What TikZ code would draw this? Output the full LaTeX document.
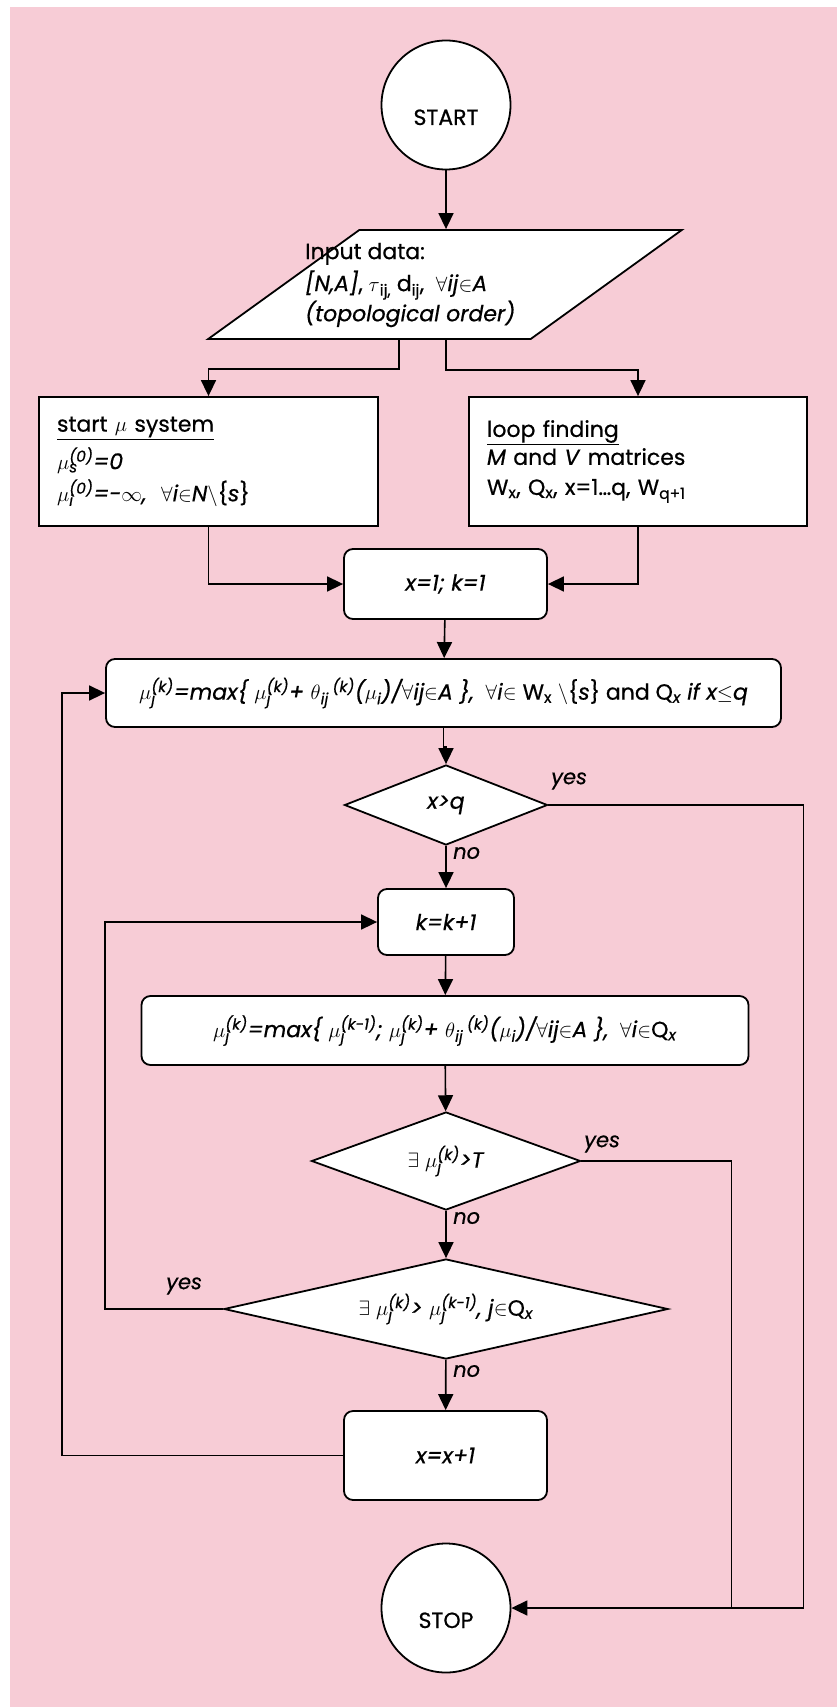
\documentclass[tikz,border=0pt]{standalone}
\usepackage{fontspec}
\setmainfont{Poppins}[FakeBold=0.6]
\usetikzlibrary{shapes.geometric,arrows.meta}
\definecolor{bgpink}{RGB}{247,204,214}
\newcommand{\supsub}[2]{\makebox[0pt][l]{\textsubscript{#2}}\textsuperscript{#1}}
\newcommand{\lowtext}[1]{\raisebox{-20pt}[0pt][0pt]{#1}}

\begin{document}
\begin{tikzpicture}[x=1pt,y=-1pt,
  font=\fontsize{22}{27}\selectfont,
  box/.style={draw,fill=white,line width=1.8pt,inner sep=0pt},
  proc/.style={box,rounded corners=9pt},
  deci/.style={box,diamond},
  term/.style={box,circle,minimum size=129pt},
  wire/.style={line width=1.6pt},
  arr/.style={wire,-{Triangle[length=16pt,width=15pt]}},
  lbl/.style={inner sep=0pt,anchor=west,font=\fontsize{21}{24}\selectfont\itshape}]
  \fill[bgpink] (10,7) rectangle (837,1707);
  \useasboundingbox (0,0) rectangle (837,1707);
  \node[term] (start) at (446,105) {\lowtext{START}};
  \node[box,inner sep=4pt,trapezium,trapezium left angle=48.6,trapezium right angle=131.4,
    trapezium stretches=true,minimum width=474pt,minimum height=109pt] (input) at (445,284.5) {};
  \node[anchor=west,align=left,inner sep=0pt] (inputtxt) at (305,285)
    {Input data:\\[5pt] \textit{[N,A]}, $\tau$\textsubscript{ij,} d\textsubscript{ij}, \ $\forall$\textit{ij}$\in$\textit{A}\\ \textit{(topological order)}};
  \coordinate (inleft) at (399,339);
  \node[box,text width=303pt,inner xsep=18pt,align=left,minimum height=129pt] (stmu) at (208.5,461.5)
    {\underline{start $\mu$ system}\\[7pt] \textit{$\mu$\supsub{(0)}{s}=0}\\[5pt] \textit{$\mu$\supsub{(0)}{i}=-$\infty$, \ $\forall$i$\in$N}$\backslash$\{\textit{s}\}\\[4pt]};
  \node[box,text width=302pt,inner xsep=18pt,align=left,minimum height=129pt] (loopf) at (638,461.5)
    {\underline{loop finding}\\[1pt] \textit{M} and \textit{V} matrices\\[3pt] W\textsubscript{x}, Q\textsubscript{x}, x=1\ldots q, W\textsubscript{q+1}};
  \node[proc,minimum width=203pt,minimum height=70pt] (init) at (445.5,584) {\textit{x=1; k=1}};
  \node[proc,minimum width=675pt,minimum height=68pt] (upd) at (443.5,693)
    {\textit{$\mu$\supsub{(k)}{j}=max\{ $\mu$\supsub{(k)}{j}+ $\theta$\textsubscript{ij}\,\textsuperscript{(k)}($\mu$\textsubscript{i})/$\forall$ij$\in$A \},} \ $\forall$\textit{i}$\in$ W\textsubscript{x} $\backslash$\{\textit{s}\} and Q\textsubscript{\textit{x}} \textit{if x$\leq$q}};
  \node[deci,aspect=2.5,minimum width=203pt,minimum height=80pt] (chkq) at (446,805) {\textit{x>q}};
  \node[proc,minimum width=136pt,minimum height=66pt] (incr) at (446,922) {\textit{k=k+1}};
  \node[proc,minimum width=607pt,minimum height=69pt] (upd2) at (445,1030.5)
    {\textit{$\mu$\supsub{(k)}{j}=max\{ $\mu$\supsub{(k-1)}{j}; $\mu$\supsub{(k)}{j}+ $\theta$\textsubscript{ij}\,\textsuperscript{(k)}($\mu$\textsubscript{i})/$\forall$ij$\in$A \},} \ $\forall$\textit{i}$\in$Q\textsubscript{\textit{x}}};
  \node[deci,aspect=2.7,minimum width=269pt,minimum height=98pt] (chkT) at (446,1161)
    {$\exists$ \textit{$\mu$\supsub{(k)}{j}>T}};
  \node[deci,aspect=4.4,minimum width=444pt,minimum height=100pt] (chkinc) at (446,1309)
    {$\exists$ \textit{$\mu$\supsub{(k)}{j}> $\mu$\supsub{(k-1)}{j}, j}$\in$Q\textsubscript{\textit{x}}};
  \node[proc,minimum width=203pt,minimum height=89pt] (nextx) at (445.5,1455.5) {\textit{x=x+1}};
  \node[term] (stop) at (446,1608) {\lowtext{STOP}};
  \coordinate (tjoin) at (731.5,1608);
  \node[lbl] (yesq) at (551,781) {yes};
  \node[lbl] (noq) at (453,853) {no};
  \node[lbl] (yesT) at (584,1144) {yes};
  \node[lbl] (noT) at (453,1218) {no};
  \node[lbl] (yesinc) at (166,1286) {yes};
  \node[lbl] (noinc) at (453,1371) {no};
  \draw[arr] (start) -- (start |- input.north);
  \draw[arr] (inleft) -- ++(0,30) -| (stmu.north);
  \draw[arr] (start |- input.south) -- ++(0,30) -| (loopf.north);
  \draw[arr] (stmu.south) |- (init.west);
  \draw[arr] (loopf.south) |- (init.east);
  \draw[arr] (init) -- (upd);
  \draw[arr] (upd.south) -- ++(0,19) -| (chkq.north);
  \draw[arr] (chkq.east) -- ++(255,0) |- (stop);
  \draw[arr] (chkq) -- (incr);
  \draw[arr] (incr) -- (upd2);
  \draw[arr] (upd2) -- (chkT);
  \draw[wire] (chkT.east) -| (tjoin);
  \draw[arr] (chkT) -- (chkinc);
  \draw[arr] (chkinc.west) -- ++(-118,0) |- (incr.west);
  \draw[arr] (chkinc) -- (nextx);
  \draw[arr] (nextx.west) -- ++(-281,0) |- (upd.west);
\end{tikzpicture}
\end{document}
